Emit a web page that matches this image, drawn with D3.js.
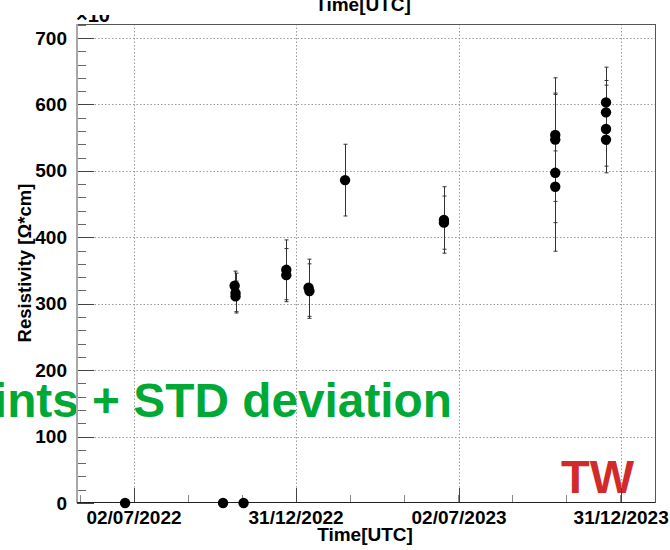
<!DOCTYPE html>
<html>
<head>
<meta charset="utf-8">
<script src="https://cdn.jsdelivr.net/npm/d3@7"></script>
<style>
  html, body { margin: 0; padding: 0; background: #fff; }
  svg { display: block; font-family: "Liberation Sans", Arial, Helvetica, sans-serif; }
</style>
</head>
<body>
<svg id="chart" width="670" height="550"></svg>
<script>
// ---- data ----
const dates = ["2022-06-22","2022-10-10","2022-11-02",
  "2022-10-23","2022-10-24","2022-10-24",
  "2022-12-20","2022-12-20",
  "2023-01-14","2023-01-15",
  "2023-02-24",
  "2023-06-15","2023-06-15",
  "2023-10-18","2023-10-18","2023-10-18","2023-10-18",
  "2023-12-14","2023-12-14","2023-12-14","2023-12-14"];
const values = [0,0,0,
  327,316,311,
  351,343,
  324,319,
  486,
  426,422,
  554,547,497,476,
  603,588,563,547];
const errors = [0,0,0,
  22,30,23,
  45,40,
  43,41,
  54,
  50,40,
  63,93,118,54,
  53,48,66,40];
const xTickLabels = ["2022-07-02","2022-12-31","2023-07-02","2023-12-31"];
const xDomain = ["2022-04-29","2024-02-07"];
const yTicks = [0,100,200,300,400,500,600,700];
const yDomain = [0,721];

// ---- layout ----
const L = 77, R = 655, T = 24, B = 503;
const svg = d3.select("#chart");
const parse = d3.utcParse("%Y-%m-%d");
const fmt = d3.utcFormat("%d/%m/%Y");

const x = d3.scaleUtc().domain(xDomain.map(parse)).range([L, R]);
const y = d3.scaleLinear().domain(yDomain).range([B, T]);

const xMajor = xTickLabels.map(parse);
const xMinor = [];
const step = (xMajor[1] - xMajor[0]);
for (let t = +xMajor[0] - step; t <= +xMajor[xMajor.length-1] + step; t += step / 3) {
  const d = new Date(t);
  if (d >= x.domain()[0] && d <= x.domain()[1]) xMinor.push(d);
}
const yMinor = d3.range(0, 721, 20);

// green annotation (drawn under grid/axes)
svg.append("text")
  .attr("x", 452).attr("y", 417)
  .attr("text-anchor", "end")
  .attr("font-size", 47.8).attr("font-weight", "bold")
  .attr("fill", "#00a935")
  .text("Data points + STD deviation");

// TW label
svg.append("text")
  .attr("x", 561).attr("y", 493)
  .attr("font-size", 47).attr("font-weight", "bold")
  .attr("fill", "#d22a2a")
  .text("TW");

// grid
const grid = svg.append("g").attr("stroke", "#9a9a9a").attr("stroke-width", 1).attr("stroke-dasharray", "1.5,2");
grid.selectAll("line.h").data(yTicks.filter(v => v > 0)).join("line")
  .attr("x1", L).attr("x2", R)
  .attr("y1", d => Math.round(y(d)) + 0.5).attr("y2", d => Math.round(y(d)) + 0.5);
grid.selectAll("line.v").data(xMajor).join("line")
  .attr("x1", d => Math.round(x(d)) + 0.5).attr("x2", d => Math.round(x(d)) + 0.5)
  .attr("y1", T).attr("y2", B);

// frame
svg.append("line").attr("x1", L).attr("x2", R).attr("y1", T + 0.5).attr("y2", T + 0.5).attr("stroke", "#555");
svg.append("line").attr("x1", R + 0.5).attr("x2", R + 0.5).attr("y1", T).attr("y2", B).attr("stroke", "#555");

// y axis ticks (inward)
const yAx = svg.append("g");
yAx.selectAll("line.maj").data(yTicks).join("line")
  .attr("x1", L).attr("x2", L + 17)
  .attr("y1", d => Math.round(y(d)) + 0.5).attr("y2", d => Math.round(y(d)) + 0.5)
  .attr("stroke", "#444");
yAx.selectAll("line.min").data(yMinor.filter(v => v % 100 !== 0)).join("line")
  .attr("x1", L).attr("x2", L + 9)
  .attr("y1", d => Math.round(y(d)) + 0.5).attr("y2", d => Math.round(y(d)) + 0.5)
  .attr("stroke", "#666");
yAx.selectAll("text").data(yTicks).join("text")
  .attr("x", 67).attr("y", d => y(d))
  .attr("dy", "0.35em").attr("text-anchor", "end")
  .attr("font-size", 19).attr("font-weight", "bold").attr("fill", "#000")
  .text(d => d);
svg.append("line").attr("x1", L).attr("x2", L).attr("y1", T).attr("y2", B)
  .attr("stroke", "#a8a8a8").attr("stroke-width", 2);

// x axis
const xAx = svg.append("g");
xAx.selectAll("line.maj").data(xMajor).join("line")
  .attr("x1", d => Math.round(x(d)) + 0.5).attr("x2", d => Math.round(x(d)) + 0.5)
  .attr("y1", B).attr("y2", B - 15).attr("stroke", "#444");
xAx.selectAll("line.min").data(xMinor.filter(d => !xMajor.some(m => Math.abs(m - d) < 3600e3))).join("line")
  .attr("x1", d => Math.round(x(d)) + 0.5).attr("x2", d => Math.round(x(d)) + 0.5)
  .attr("y1", B).attr("y2", B - 8).attr("stroke", "#888");
xAx.selectAll("text").data(xMajor).join("text")
  .attr("x", d => x(d)).attr("y", 524)
  .attr("text-anchor", "middle")
  .attr("font-size", 19).attr("font-weight", "bold")
  .text(d => fmt(d));
svg.append("line").attr("x1", L).attr("x2", R).attr("y1", B - 0.5).attr("y2", B - 0.5).attr("stroke", "#222");

// axis titles
svg.append("text").attr("x", 365).attr("y", 541).attr("text-anchor", "middle")
  .attr("font-size", 19).attr("font-weight", "bold").text("Time[UTC]");
svg.append("text").attr("x", 363).attr("y", 11).attr("text-anchor", "middle")
  .attr("font-size", 19).attr("font-weight", "bold").text("Time[UTC]");
svg.append("text").attr("transform", "translate(31,263) rotate(-90)")
  .attr("text-anchor", "middle")
  .attr("font-size", 18.5).attr("font-weight", "bold").text("Resistivity [Ω*cm]");

// ×10 exponent, partially clipped at top
svg.append("clipPath").attr("id", "expclip").append("rect")
  .attr("x", 0).attr("y", 15).attr("width", 200).attr("height", 10);
svg.append("text").attr("x", 76).attr("y", 22).attr("clip-path", "url(#expclip)")
  .attr("font-size", 20).attr("font-weight", "bold").text("×10");

// data: error bars + points
const pts = dates.map((d, i) => ({ d: parse(d), v: values[i], e: errors[i] }));
const eb = svg.append("g").attr("stroke", "#333").attr("stroke-width", 1);
pts.filter(p => p.e > 0).forEach(p => {
  const cx = Math.round(x(p.d)) + 0.5;
  eb.append("line").attr("x1", cx).attr("x2", cx).attr("y1", y(p.v + p.e)).attr("y2", y(p.v - p.e));
  eb.append("line").attr("x1", cx - 2).attr("x2", cx + 2).attr("y1", y(p.v + p.e)).attr("y2", y(p.v + p.e));
  eb.append("line").attr("x1", cx - 2).attr("x2", cx + 2).attr("y1", y(p.v - p.e)).attr("y2", y(p.v - p.e));
});
svg.append("g").selectAll("circle").data(pts).join("circle")
  .attr("cx", p => x(p.d)).attr("cy", p => y(p.v))
  .attr("r", 5.2).attr("fill", "#000");
</script>
</body>
</html>
